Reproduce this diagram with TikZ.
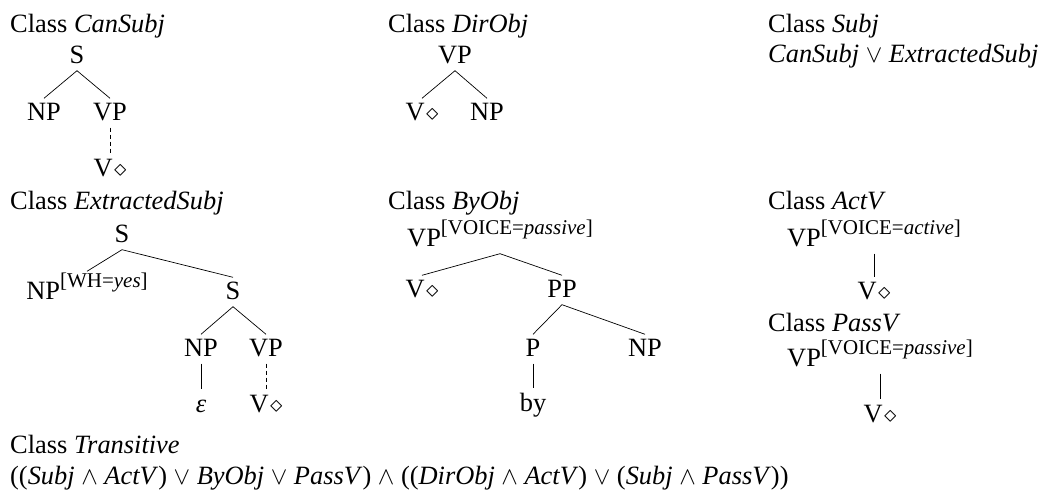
\documentclass[tikz,border=0pt]{standalone}
\usepackage{fontspec}
\setmainfont{Liberation Serif}
% feature bundle written as a raised, smaller superscript
\newcommand\featbox[1]{\raisebox{12.5bp}{\fontsize{21bp}{24bp}\selectfont[#1]}}
% lexical anchor marker
\newcommand\lexanchor{\kern1.5bp$\diamond$}
\begin{document}
\begin{tikzpicture}[x=1bp,y=-1bp,
  lbl/.style={anchor=base west,inner sep=0pt,font=\fontsize{26.4bp}{30bp}\selectfont},
  cat/.style={anchor=base,inner xsep=0pt,inner ysep=6.5bp,text height=16bp,text depth=0pt,
              font=\fontsize{26.4bp}{30bp}\selectfont},
  featcat/.style={cat,text height=22bp},
  branch/.style={line width=0.7bp},
  dombranch/.style={line width=0.7bp,dash pattern=on 4bp off 3bp}]
\useasboundingbox (0,0) rectangle (1043,490);

% ---- CanSubj
\node[lbl] (hCan) at (10,33) {Class \textit{CanSubj}};
\node[cat] (cS)  at (77,64)  {S};
\node[cat] (cNP) at (44,121) {NP};
\node[cat] (cVP) at (110,121) {VP};
\node[cat] (cV)  at (110,177) {V\lexanchor};
\draw[branch] (cS.south) -- (cNP.north);
\draw[branch] (cS.south) -- (cVP.north);
\draw[dombranch] (cVP.south) -- (cV.north);

% ---- DirObj
\node[lbl] (hDir) at (388,33) {Class \textit{DirObj}};
\node[cat] (dVP) at (455,64)  {VP};
\node[cat] (dV)  at (422,121) {V\lexanchor};
\node[cat] (dNP) at (487,121) {NP};
\draw[branch] (dVP.south) -- (dV.north);
\draw[branch] (dVP.south) -- (dNP.north);

% ---- Subj
\node[lbl] (hSubj) at (768,33) {Class \textit{Subj}};
\node[lbl] (fSubj) at (768,63) {\textit{CanSubj} $\vee$ \textit{ExtractedSubj}};

% ---- ExtractedSubj
\node[lbl] (hExt) at (10,210) {Class \textit{ExtractedSubj}};
\node[cat] (eS)   at (122,243) {S};
\node[featcat] (eWh) at (87,300) {NP\featbox{WH=\textit{yes}}};
\node[cat] (eS2)  at (233,300) {S};
\node[cat] (eNP)  at (201,357) {NP};
\node[cat] (eVP)  at (266,357) {VP};
\node[cat] (eEps) at (201,412) {\itshape ε};
\node[cat] (eV)   at (266,412) {V\lexanchor};
\draw[branch] (eS.south) -- (eWh.north);
\draw[branch] (eS.south) -- (eS2.north);
\draw[branch] (eS2.south) -- (eNP.north);
\draw[branch] (eS2.south) -- (eVP.north);
\draw[branch] (eNP.south) -- (eEps.north);
\draw[dombranch] (eVP.south) -- (eV.north);

% ---- ByObj
\node[lbl] (hBy) at (388,210) {Class \textit{ByObj}};
\node[featcat] (bVP) at (500,247) {VP\featbox{VOICE=\textit{passive}}};
\node[cat] (bV)  at (422,298) {V\lexanchor};
\node[cat] (bPP) at (562,298) {PP};
\node[cat] (bP)  at (533,357) {P};
\node[cat] (bNP) at (645,357) {NP};
\node[cat] (bBy) at (533,411) {by};
\draw[branch] (bVP.south) -- (bV.north);
\draw[branch] (bVP.south) -- (bPP.north);
\draw[branch] (bPP.south) -- (bP.north);
\draw[branch] (bPP.south) -- (bNP.north);
\draw[branch] (bP.south) -- (bBy.north);

% ---- ActV
\node[lbl] (hAct) at (768,210) {Class \textit{ActV}};
\node[featcat] (aVP) at (874,247) {VP\featbox{VOICE=\textit{active}}};
\node[cat] (aV) at (874,300) {V\lexanchor};
\draw[branch] (aVP.south) -- (aV.north);

% ---- PassV
\node[lbl] (hPass) at (768,332) {Class \textit{PassV}};
\node[featcat] (pVP) at (880,367) {VP\featbox{VOICE=\textit{passive}}};
\node[cat] (pV) at (880,422) {V\lexanchor};
\draw[branch] (pVP.south) -- (pV.north);

% ---- Transitive
\node[lbl] (hTr) at (10,453) {Class \textit{Transitive}};
\node[lbl] (fTr) at (10,484) {((\textit{Subj} $\wedge$ \textit{ActV}) $\vee$ \textit{ByObj} $\vee$ \textit{PassV}) $\wedge$ ((\textit{DirObj} $\wedge$ \textit{ActV}) $\vee$ (\textit{Subj} $\wedge$ \textit{PassV}))};
\end{tikzpicture}
\end{document}
